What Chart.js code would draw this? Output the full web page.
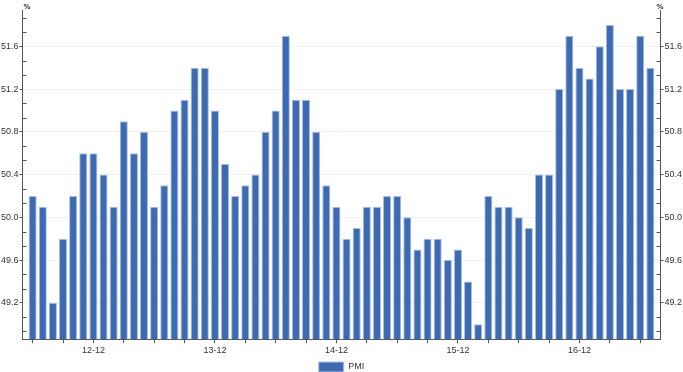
<!DOCTYPE html>
<html>
<head>
<meta charset="utf-8">
<script src="https://cdn.jsdelivr.net/npm/chart.js@4/dist/chart.umd.min.js"></script>
<style>
  html, body { margin: 0; padding: 0; background: #fff; }
  #wrap { width: 683px; height: 372px; }
</style>
</head>
<body>
<div id="wrap"><canvas id="pmiChart"></canvas></div>
<script>
// months as YY-MM, Jun 2012 .. Jul 2017
var months = ["12-06", "12-07", "12-08", "12-09", "12-10", "12-11", "12-12",
    "13-01", "13-02", "13-03", "13-04", "13-05", "13-06", "13-07", "13-08", "13-09", "13-10", "13-11", "13-12",
    "14-01", "14-02", "14-03", "14-04", "14-05", "14-06", "14-07", "14-08", "14-09", "14-10", "14-11", "14-12",
    "15-01", "15-02", "15-03", "15-04", "15-05", "15-06", "15-07", "15-08", "15-09", "15-10", "15-11", "15-12",
    "16-01", "16-02", "16-03", "16-04", "16-05", "16-06", "16-07", "16-08", "16-09", "16-10", "16-11", "16-12",
    "17-01", "17-02", "17-03", "17-04", "17-05", "17-06", "17-07"];
var pmi = [50.2, 50.1, 49.2, 49.8, 50.2, 50.6, 50.6,
    50.4, 50.1, 50.9, 50.6, 50.8, 50.1, 50.3, 51.0, 51.1, 51.4, 51.4, 51.0,
    50.5, 50.2, 50.3, 50.4, 50.8, 51.0, 51.7, 51.1, 51.1, 50.8, 50.3, 50.1,
    49.8, 49.9, 50.1, 50.1, 50.2, 50.2, 50.0, 49.7, 49.8, 49.8, 49.6, 49.7,
    49.4, 49.0, 50.2, 50.1, 50.1, 50.0, 49.9, 50.4, 50.4, 51.2, 51.7, 51.4,
    51.3, 51.6, 51.8, 51.2, 51.2, 51.7, 51.4];
var yTicks = [49.2, 49.6, 50.0, 50.4, 50.8, 51.2, 51.6];

var yMin = 48.86, yMax = 51.94;
var axisColor = "#555";
var textColor = "#333";
var fontFamily = "'Liberation Sans', Arial, sans-serif";

// small inner ticks (3 per major step) plus the % unit on top of both axes
var axisExtras = {
    id: "axisExtras",
    afterDraw: function (chart) {
        var ctx = chart.ctx;
        var step = (yTicks[1] - yTicks[0]) / 3;
        ["y", "y1"].forEach(function (id) {
            var s = chart.scales[id];
            var x = id === "y" ? chart.chartArea.left : chart.chartArea.right;
            var dir = id === "y" ? 1 : -1;
            ctx.save();
            ctx.strokeStyle = axisColor;
            ctx.lineWidth = 1;
            for (var k = -10; k < 40; k++) {
                if (k % 3 === 0) continue;
                var v = yTicks[0] + k * step;
                if (v <= yMin || v >= yMax) continue;
                var py = Math.round(s.getPixelForValue(v)) + 0.5;
                ctx.beginPath();
                ctx.moveTo(x, py);
                ctx.lineTo(x + dir * 4, py);
                ctx.stroke();
            }
            ctx.fillStyle = textColor;
            ctx.font = "bold 7px 'DejaVu Sans'";
            ctx.textAlign = "left";
            ctx.textBaseline = "bottom";
            ctx.fillText("%", id === "y" ? x + 1 : x - 4, chart.chartArea.top + 1);
            ctx.restore();
        });
    }
};

var yTickOpts = {
    stepSize: 0.4,
    includeBounds: false,
    padding: 1,
    color: textColor,
    font: { size: 9, family: fontFamily },
    callback: function (v) { return v.toFixed(1); }
};

var pmiChart = new Chart(document.getElementById("pmiChart"), {
    type: "bar",
    data: {
        datasets: [{
            label: "PMI",
            data: pmi.map(function (v, i) { return { x: i, y: v }; }),
            backgroundColor: "#3d6ab0",
            borderColor: "#a9bfe3",
            borderWidth: 1,
            barPercentage: 0.8,
            categoryPercentage: 1.0,
            yAxisID: "y"
        }]
    },
    options: {
        responsive: true,
        maintainAspectRatio: false,
        animation: false,
        layout: { padding: { top: 10, left: 0, right: 0, bottom: -10 } },
        plugins: {
            legend: {
                position: "bottom",
                labels: {
                    boxWidth: 25,
                    boxHeight: 10,
                    padding: 4,
                    color: textColor,
                    font: { size: 9, family: fontFamily }
                }
            },
            tooltip: { enabled: false }
        },
        scales: {
            x: {
                type: "linear",
                offset: false,
                min: -1,
                max: months.length,
                afterBuildTicks: function (s) {
                    s.ticks = months
                        .map(function (m, i) { return { value: i }; })
                        .filter(function (t) { return t.value % 3 === 0; });
                },
                grid: { offset: false, drawOnChartArea: false, tickLength: 4, tickColor: axisColor },
                border: { color: axisColor },
                ticks: {
                    autoSkip: false,
                    maxRotation: 0,
                    padding: 2,
                    color: textColor,
                    font: { size: 9, family: fontFamily },
                    callback: function (value) {
                        var m = months[value];
                        return m && m.slice(3) === "12" ? m : "";
                    }
                }
            },
            y: {
                position: "left",
                min: yMin,
                max: yMax,
                grid: { color: "#f0f0f0", tickColor: axisColor, tickLength: 3 },
                border: { color: axisColor },
                ticks: yTickOpts
            },
            y1: {
                position: "right",
                min: yMin,
                max: yMax,
                grid: { drawOnChartArea: false, tickColor: axisColor, tickLength: 3 },
                border: { color: axisColor },
                ticks: yTickOpts
            }
        }
    },
    plugins: [axisExtras]
});
</script>
</body>
</html>
